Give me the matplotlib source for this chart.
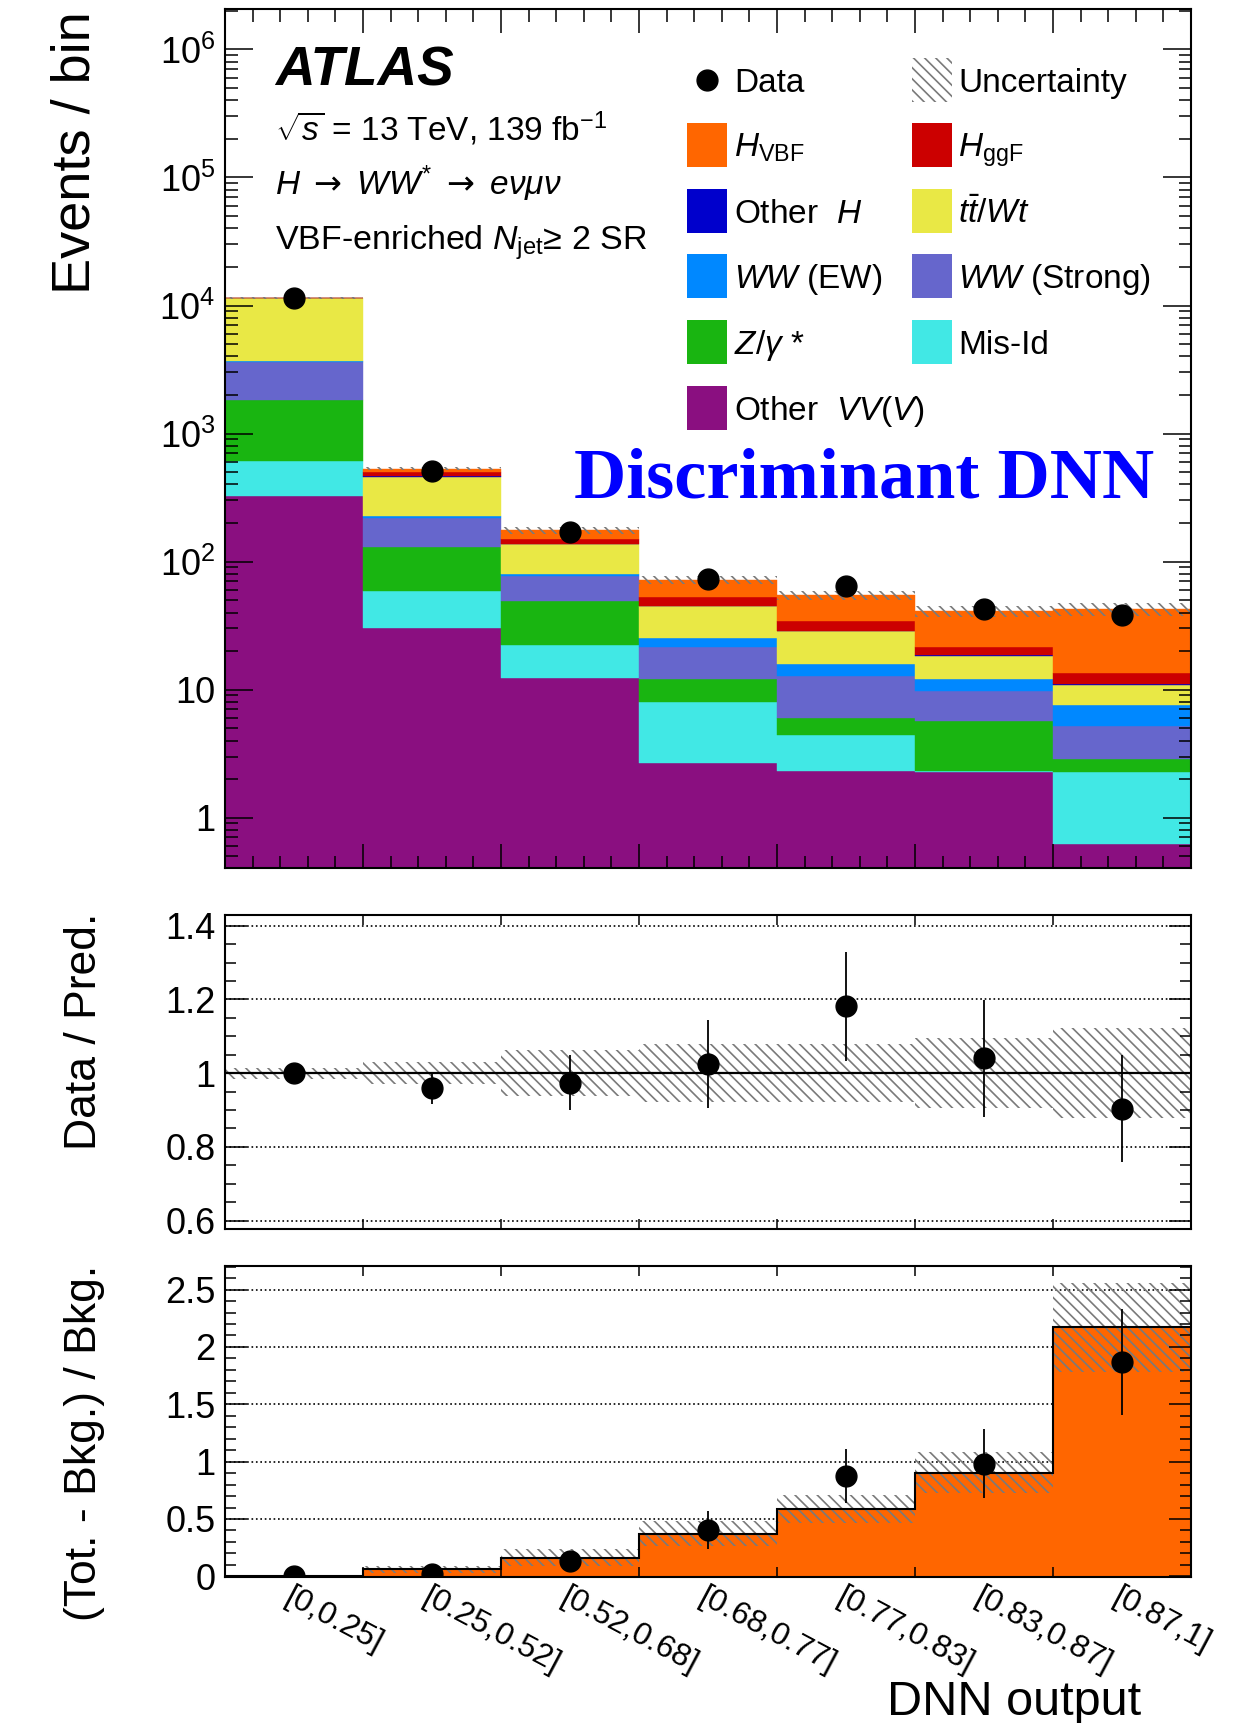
import numpy as np
import matplotlib
matplotlib.use('Agg')
import matplotlib.pyplot as plt
from matplotlib.patches import Rectangle
from matplotlib.ticker import (FixedLocator, FuncFormatter, LogLocator,
                               MultipleLocator, NullFormatter)

plt.rcParams['font.family'] = ['Liberation Sans', 'DejaVu Sans']
plt.rcParams['mathtext.fontset'] = 'custom'
plt.rcParams['mathtext.rm'] = 'Liberation Sans'
plt.rcParams['mathtext.it'] = 'Liberation Sans:italic'
plt.rcParams['mathtext.bf'] = 'Liberation Sans:bold'
plt.rcParams['mathtext.sf'] = 'DejaVu Sans'
plt.rcParams['mathtext.default'] = 'regular'
plt.rcParams['hatch.linewidth'] = 1.2

# DNN output bins
bins = ['[0,0.25]', '[0.25,0.52]', '[0.52,0.68]', '[0.68,0.77]',
        '[0.77,0.83]', '[0.83,0.87]', '[0.87,1]']

# expected events per bin, stacked from the bottom up
other_vv = [326, 30.0, 12.3, 2.66, 2.32, 2.28, 0.62]
mis_id = [288, 29.3, 10.1, 5.39, 2.10, 0.05, 1.67]
z_gamma = [1206, 69.7, 26.9, 4.05, 1.55, 3.36, 0.58]
ww_strong = [1800, 90, 27.7, 9.3, 6.83, 4.11, 2.36]
ww_ew = [60, 9, 2.7, 3.8, 3.05, 2.3, 2.35]
top_wt = [7800, 232, 57.3, 19.8, 12.85, 6.2, 3.32]
other_h = [5, 2, 1.0, 0.2, 0.2, 0.2, 0.1]
h_ggf = [15, 41, 13, 7.2, 5.5, 3.1, 2.4]
h_vbf = [3, 30, 24.5, 19.5, 20.2, 19.55, 29.1]

# total prediction uncertainty (events)
pred_unc = [172, 16, 11, 5.6, 4.3, 3.95, 5.2]

# observed data
data = [11520, 511, 171, 73.6, 64.5, 42.8, 38.4]
data_err = [107, 22.6, 13.0, 8.6, 8.1, 6.5, 6.2]

procs = [
    ('vv', other_vv, '#8A0F80', r'Other  $\mathit{VV(V)}$'),
    ('misid', mis_id, '#41E8E5', 'Mis-Id'),
    ('z', z_gamma, '#19B511', r'$\mathit{Z/\gamma}$ *'),
    ('wws', ww_strong, '#6666CC', r'$\mathit{WW}$ (Strong)'),
    ('wwew', ww_ew, '#0088FF', r'$\mathit{WW}$ (EW)'),
    ('top', top_wt, '#E9E845', r'$\mathit{t\bar{t}/Wt}$'),
    ('oh', other_h, '#0000CC', r'Other  $\mathit{H}$'),
    ('ggf', h_ggf, '#CC0000', r'$\mathit{H}_{\mathrm{ggF}}$'),
    ('vbf', h_vbf, '#FF6600', r'$\mathit{H}_{\mathrm{VBF}}$'),
]

nb = len(bins)
edges = np.arange(nb + 1)
left = edges[:-1]
centers = left + 0.5

W, H = 1245, 1723
fig = plt.figure(figsize=(W / 100, H / 100), dpi=100)


def box(x0, y0, x1, y1):
    return [x0 / W, 1 - y1 / H, (x1 - x0) / W, (y1 - y0) / H]


def put(x, y, s, **kw):
    return fig.text(x / W, 1 - y / H, s, **kw)


ax = fig.add_axes(box(225, 9, 1191, 868))
rax = fig.add_axes(box(225, 915, 1191, 1229))
bax = fig.add_axes(box(225, 1266, 1191, 1577))

hatch = '\\\\\\'
hcol = '#7a7a7a'

# ---- main panel: stacked prediction
ax.set_yscale('log')
stack = np.zeros(nb)
for key, vals, col, lab in procs:
    vals = np.asarray(vals, float)
    ax.bar(left, vals, width=1, bottom=stack, align='edge', color=col,
           edgecolor=col, linewidth=0.3)
    stack = stack + vals
total = stack
bkg = total - np.asarray(h_vbf, float)
unc = np.asarray(pred_unc, float)
dat = np.asarray(data, float)
derr = np.asarray(data_err, float)

ax.bar(left, 2 * unc, width=1, bottom=total - unc, align='edge',
       facecolor='none', edgecolor=hcol, hatch=hatch, linewidth=0)
ax.errorbar(centers, dat, yerr=derr, fmt='o', color='black', ms=15,
            elinewidth=1.3, capsize=0, zorder=5)

ax.set_xlim(0, nb)
ax.set_ylim(0.404, 2.07e6)
ax.yaxis.set_major_locator(FixedLocator([1, 10, 1e2, 1e3, 1e4, 1e5, 1e6]))
ax.yaxis.set_minor_locator(LogLocator(base=10, subs=np.arange(2, 10), numticks=20))
ax.yaxis.set_minor_formatter(NullFormatter())


def logfmt(v, pos):
    n = int(round(np.log10(v)))
    if n == 0:
        return '1'
    if n == 1:
        return '10'
    return r'$10^{%d}$' % n


ax.yaxis.set_major_formatter(FuncFormatter(logfmt))
ax.xaxis.set_major_locator(FixedLocator(edges))
ax.xaxis.set_minor_locator(MultipleLocator(0.2))
ax.tick_params(which='both', direction='in', top=True, right=True,
               labelbottom=False, width=1.1, labelsize=26, pad=7)
ax.tick_params(axis='x', which='major', length=17)
ax.tick_params(axis='x', which='minor', length=9)
ax.tick_params(axis='y', which='major', length=20)
ax.tick_params(axis='y', which='minor', length=9)

# ---- ratio panel
ratio = dat / total
rax.bar(left, 2 * unc / total, width=1, bottom=1 - unc / total, align='edge',
        facecolor='none', edgecolor=hcol, hatch=hatch, linewidth=0)
for y in [0.6, 0.8, 1.2, 1.4]:
    rax.axhline(y, ls=':', color='black', lw=1.2, zorder=0.5)
rax.axhline(1, color='black', lw=1.6, zorder=2)
rax.errorbar(centers, ratio, yerr=derr / total, fmt='o', color='black', ms=15,
             elinewidth=1.3, capsize=0, zorder=5)
rax.set_xlim(0, nb)
rax.set_ylim(0.577, 1.429)
rax.yaxis.set_major_locator(FixedLocator([0.6, 0.8, 1.0, 1.2, 1.4]))
rax.yaxis.set_minor_locator(MultipleLocator(0.05))
rax.yaxis.set_major_formatter(FuncFormatter(lambda v, p: f'{v:g}'))
rax.xaxis.set_major_locator(FixedLocator(edges))
rax.xaxis.set_major_formatter(NullFormatter())
rax.tick_params(which='both', direction='in', top=True, right=True,
                labelbottom=False, width=1.1, labelsize=26, pad=7)
rax.tick_params(axis='x', which='major', length=7)
rax.tick_params(axis='y', which='major', length=16)
rax.tick_params(axis='y', which='minor', length=8)

# ---- signal over background panel
sig = np.asarray(h_vbf, float) / bkg
for y in [0.5, 1.0, 1.5, 2.0, 2.5]:
    bax.axhline(y, ls=':', color='black', lw=1.2, zorder=0.5)
bax.bar(left, sig, width=1, align='edge', color='#FF6600', linewidth=0)
bax.stairs(sig, edges, baseline=None, color='black', lw=1.5, zorder=1.2)
bax.bar(left, 2 * unc / bkg, width=1, bottom=sig - unc / bkg, align='edge',
        facecolor='none', edgecolor=hcol, hatch=hatch, linewidth=0)
bax.errorbar(centers, dat / bkg - 1, yerr=derr / bkg, fmt='o', color='black',
             ms=15, elinewidth=1.3, capsize=0, zorder=5)
bax.set_xlim(0, nb)
bax.set_ylim(-0.006, 2.706)
bax.yaxis.set_major_locator(FixedLocator([0, 0.5, 1.0, 1.5, 2.0, 2.5]))
bax.yaxis.set_minor_locator(MultipleLocator(0.1))
bax.yaxis.set_major_formatter(FuncFormatter(lambda v, p: f'{v:g}'))
bax.xaxis.set_major_locator(FixedLocator(edges))
bax.xaxis.set_major_formatter(NullFormatter())
bax.set_xticks(centers, bins, minor=True)
bax.tick_params(which='both', direction='in', top=True, right=True,
                width=1.1, labelsize=26, pad=7)
bax.tick_params(axis='x', which='major', length=7)
bax.tick_params(axis='x', which='minor', length=0, labelsize=23, pad=4)
bax.tick_params(axis='y', which='major', length=16)
bax.tick_params(axis='y', which='minor', length=8)
for t in bax.get_xticklabels(minor=True):
    t.set_rotation(-28)
    t.set_ha('left')
    t.set_va('top')
    t.set_rotation_mode('anchor')

for a in (ax, rax, bax):
    for s in a.spines.values():
        s.set_linewidth(1.5)

# ---- labels
put(76, 153, 'Events / bin', rotation=90, ha='center', va='center', fontsize=39)
put(85, 1031, 'Data / Pred.', rotation=90, ha='center', va='center', fontsize=32)
put(85, 1443, '(Tot. - Bkg.) / Bkg.', rotation=90, ha='center', va='center',
    fontsize=32)
put(1141, 1715, 'DNN output', ha='right', va='baseline', fontsize=35)

put(275, 85, 'ATLAS', fontsize=39.5, fontweight='bold', fontstyle='italic',
    va='baseline')
put(275, 141, r'$\sqrt{\mathit{s}}$ = 13 TeV, 139 fb$^{-1}$', fontsize=24,
    va='baseline')
put(275, 195, r'$\mathit{H}\ \mathsf{\rightarrow}\ \mathit{WW}^{*}\ \mathsf{\rightarrow}\ \mathit{e\nu\mu\nu}$',
    fontsize=24, va='baseline')
put(275, 250, r'VBF-enriched $\mathit{N}_{\mathrm{jet}}$≥ 2 SR', fontsize=24.5,
    va='baseline')
put(574, 498, 'Discriminant DNN', family='Liberation Serif', fontweight='bold',
    color='#0000FF', fontsize=52, va='baseline')

# ---- legend, two columns
by_key = {p[0]: p for p in procs}
col1 = ['vbf', 'oh', 'wwew', 'z', 'vv']
col2 = ['ggf', 'top', 'wws', 'misid']
rows = [80, 145, 211, 276, 342, 408]
bw, bh = 40, 44


def legend_box(x, yc, **kw):
    r = Rectangle((x / W, 1 - (yc + bh / 2) / H), bw / W, bh / H,
                  transform=fig.transFigure, **kw)
    fig.add_artist(r)


fig.add_artist(plt.Line2D([707 / W], [1 - rows[0] / H], marker='o', ms=15,
                          color='black', transform=fig.transFigure))
put(734, rows[0] + 12, 'Data', fontsize=24, va='baseline')
legend_box(912, rows[0], facecolor='none', edgecolor=hcol, hatch=hatch,
           linewidth=0)
put(958, rows[0] + 12, 'Uncertainty', fontsize=24, va='baseline')
for yc, key in zip(rows[1:], col1):
    legend_box(687, yc, facecolor=by_key[key][2], linewidth=0)
    put(734, yc + 12, by_key[key][3], fontsize=24, va='baseline')
for yc, key in zip(rows[1:], col2):
    legend_box(912, yc, facecolor=by_key[key][2], linewidth=0)
    put(958, yc + 12, by_key[key][3], fontsize=24, va='baseline')

fig.savefig('out.png', dpi=100)
